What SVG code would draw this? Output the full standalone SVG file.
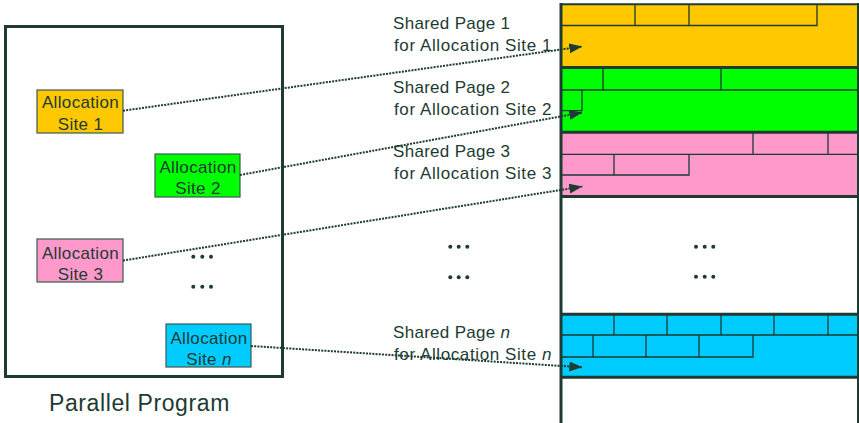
<svg xmlns="http://www.w3.org/2000/svg" width="859" height="423" viewBox="0 0 859 423">
<defs>
<style>
.t{font-family:"Liberation Sans",Arial,sans-serif;fill:#1d3b32}
.site{font-size:17px;letter-spacing:0.35px;text-anchor:middle}
.lbl{font-size:17px}
.l1{letter-spacing:0.3px}
.l2{letter-spacing:0.6px}
.box{stroke:#3a5a50;stroke-width:1.2}
.blk{fill:none;stroke:#1d3b32;stroke-width:1.3}
.heavy{stroke:#1d3b32;stroke-width:3;fill:none}
.conn{fill:none;stroke:#1d3b32;stroke-width:2;stroke-dasharray:2 1.2}
.dot{fill:#1d3b32}
</style>
<marker id="ah" markerUnits="userSpaceOnUse" markerWidth="14" markerHeight="12" refX="13" refY="5" orient="auto">
<path d="M0,0 L13,5 L0,10 z" fill="#1d3b32"/>
</marker>
</defs>
<rect width="859" height="423" fill="#ffffff"/>

<g id="program">
<rect x="5.5" y="26.5" width="277" height="350" class="heavy"/>
<text class="t" x="49" y="411" font-size="23" letter-spacing="0.6">Parallel Program</text>
<circle class="dot" cx="193.3" cy="256.7" r="2"/><circle class="dot" cx="202.3" cy="256.7" r="2"/><circle class="dot" cx="211" cy="256.7" r="2"/>
<circle class="dot" cx="193.3" cy="286.7" r="2"/><circle class="dot" cx="202.3" cy="286.7" r="2"/><circle class="dot" cx="211" cy="286.7" r="2"/>
</g>

<g id="site1">
<rect class="box" x="37" y="90" width="86" height="43" fill="#ffc800"/>
<text class="t site" x="80.5" y="108.3">Allocation</text>
<text class="t site" x="80.5" y="130">Site 1</text>
</g>
<g id="site2">
<rect class="box" x="155" y="154" width="85" height="43" fill="#00ff00"/>
<text class="t site" x="198" y="172.7">Allocation</text>
<text class="t site" x="198" y="194">Site 2</text>
</g>
<g id="site3">
<rect class="box" x="37" y="239" width="86" height="43" fill="#ff99cc"/>
<text class="t site" x="80.5" y="259">Allocation</text>
<text class="t site" x="80.5" y="279.5">Site 3</text>
</g>
<g id="siten">
<rect class="box" x="166" y="324" width="85" height="43" fill="#00ccff"/>
<text class="t site" x="209" y="344">Allocation</text>
<text class="t site" x="209" y="365">Site <tspan font-style="italic">n</tspan></text>
</g>

<g id="labels">
<text class="t lbl l1" x="393" y="29">Shared Page 1</text>
<text class="t lbl l2" x="394" y="51">for Allocation Site 1</text>
<text class="t lbl l1" x="393" y="92.5">Shared Page 2</text>
<text class="t lbl l2" x="394" y="114.5">for Allocation Site 2</text>
<text class="t lbl l1" x="393" y="157">Shared Page 3</text>
<text class="t lbl l2" x="394" y="178.5">for Allocation Site 3</text>
<text class="t lbl l1" x="393" y="338">Shared Page <tspan font-style="italic">n</tspan></text>
<text class="t lbl l2" x="394" y="359.5">for Allocation Site <tspan font-style="italic">n</tspan></text>
<circle class="dot" cx="450.3" cy="246.7" r="2"/><circle class="dot" cx="458.7" cy="246.7" r="2"/><circle class="dot" cx="467.3" cy="246.7" r="2"/>
<circle class="dot" cx="450.3" cy="277.3" r="2"/><circle class="dot" cx="458.7" cy="277.3" r="2"/><circle class="dot" cx="467.3" cy="277.3" r="2"/>
</g>

<g id="memory">
<rect x="561" y="4.5" width="297" height="63" fill="#ffc800"/>
<rect x="561" y="67.5" width="297" height="65" fill="#00ff00"/>
<rect x="561" y="132.5" width="297" height="64" fill="#ff99cc"/>
<rect x="561" y="314.5" width="297" height="63" fill="#00ccff"/>
<path class="blk" d="M561,25.5 H817 V4.5 M635,4.5 V25.5 M689,4.5 V25.5"/>
<path class="blk" d="M561,90 H858 M603,67.5 V90 M721,67.5 V90 M561,110.7 H582 V90"/>
<path class="blk" d="M561,154.3 H858 M753,132.5 V154.3 M828,132.5 V154.3 M561,175 H689 V154.3 M614,154.3 V175"/>
<path class="blk" d="M561,335 H858 M614,314.5 V335 M667,314.5 V335 M721,314.5 V335 M774,314.5 V335 M828,314.5 V335 M561,357 H753 V335 M593,335 V357 M646,335 V357 M699,335 V357"/>
<path stroke="#1d3b32" stroke-width="2" d="M560,4.3 H859"/>
<path stroke="#1d3b32" stroke-width="3" d="M560,67.5 H859 M560,132.3 H859 M560,196.5 H859 M560,314.3 H859 M560,377.3 H859"/>
<path stroke="#1d3b32" stroke-width="3" d="M561,3 V423"/>
<path stroke="#1d3b32" stroke-width="2" d="M858,3 V423"/>
<circle class="dot" cx="696" cy="246.7" r="2"/><circle class="dot" cx="704.7" cy="246.7" r="2"/><circle class="dot" cx="713.3" cy="246.7" r="2"/>
<circle class="dot" cx="696" cy="276.7" r="2"/><circle class="dot" cx="704.7" cy="276.7" r="2"/><circle class="dot" cx="713.3" cy="276.7" r="2"/>
</g>

<g id="connectors">
<line class="conn" x1="123" y1="110.7" x2="582.3" y2="46.5" marker-end="url(#ah)"/>
<line class="conn" x1="240" y1="175" x2="582.3" y2="112.5" marker-end="url(#ah)"/>
<line class="conn" x1="123" y1="260.5" x2="582.3" y2="186.5" marker-end="url(#ah)"/>
<line class="conn" x1="251" y1="346" x2="582.3" y2="367.3" marker-end="url(#ah)"/>
</g>
</svg>
